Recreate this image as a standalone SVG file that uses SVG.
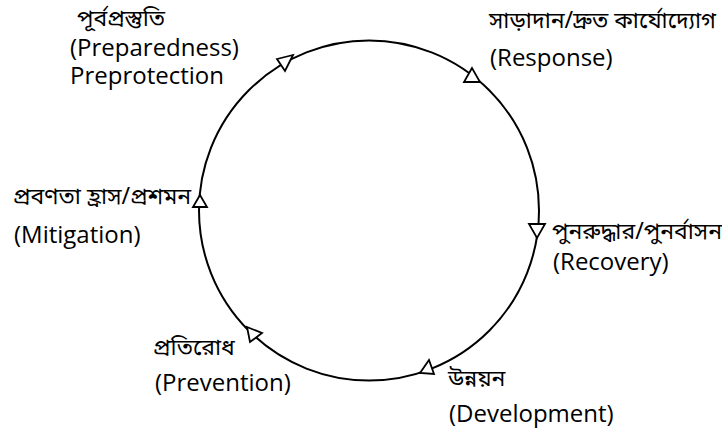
<svg xmlns="http://www.w3.org/2000/svg" width="722" height="435" viewBox="0 0 722 435">
<style>
.en{font-family:"Open Sans","Noto Sans","Liberation Sans",sans-serif;font-size:24px;fill:#000}
.bn{font-family:"Noto Sans Bengali","Lohit Bengali","Noto Sans","Liberation Sans",sans-serif;font-size:23px;fill:#000}
.ring{fill:none;stroke:#000;stroke-width:2}
.tri{fill:#fff;stroke:#000;stroke-width:1.8;stroke-linejoin:miter}
</style>
<rect width="722" height="435" fill="#fff"/>
<g id="connectors">
<circle class="ring" cx="369" cy="210.5" r="170"/>
<polygon class="tri" points="277,59 293,55 285,71"/>
<polygon class="tri" points="472,68 464,82 480,82"/>
<polygon class="tri" points="529,224 545,224 537,238"/>
<polygon class="tri" points="429,360 420,373 434,374"/>
<polygon class="tri" points="247,327 262,333 250,342"/>
<polygon class="tri" points="200,195 193,207 207,207"/>
</g>
<g id="preparedness">
<text class="bn" x="77" y="26">পূর্বপ্রস্তুতি</text>
<text class="en" x="70" y="56">(Preparedness)</text>
<text class="en" x="70" y="84">Preprotection</text>
</g>
<g id="response">
<text class="bn" x="489" y="28">সাড়াদান/দ্রুত কার্যোদ্যোগ</text>
<text class="en" x="490" y="66">(Response)</text>
</g>
<g id="recovery">
<text class="bn" x="552" y="239">পুনরুদ্ধার/পুনর্বাসন</text>
<text class="en" x="553" y="270">(Recovery)</text>
</g>
<g id="development">
<text class="bn" x="448" y="386">উন্নয়ন</text>
<text class="en" x="449" y="422">(Development)</text>
</g>
<g id="prevention">
<text class="bn" x="153" y="355">প্রতিরোধ</text>
<text class="en" x="155" y="391">(Prevention)</text>
</g>
<g id="mitigation">
<text class="bn" x="13" y="204">প্রবণতা হ্রাস/প্রশমন</text>
<text class="en" x="14" y="243">(Mitigation)</text>
</g>
</svg>
